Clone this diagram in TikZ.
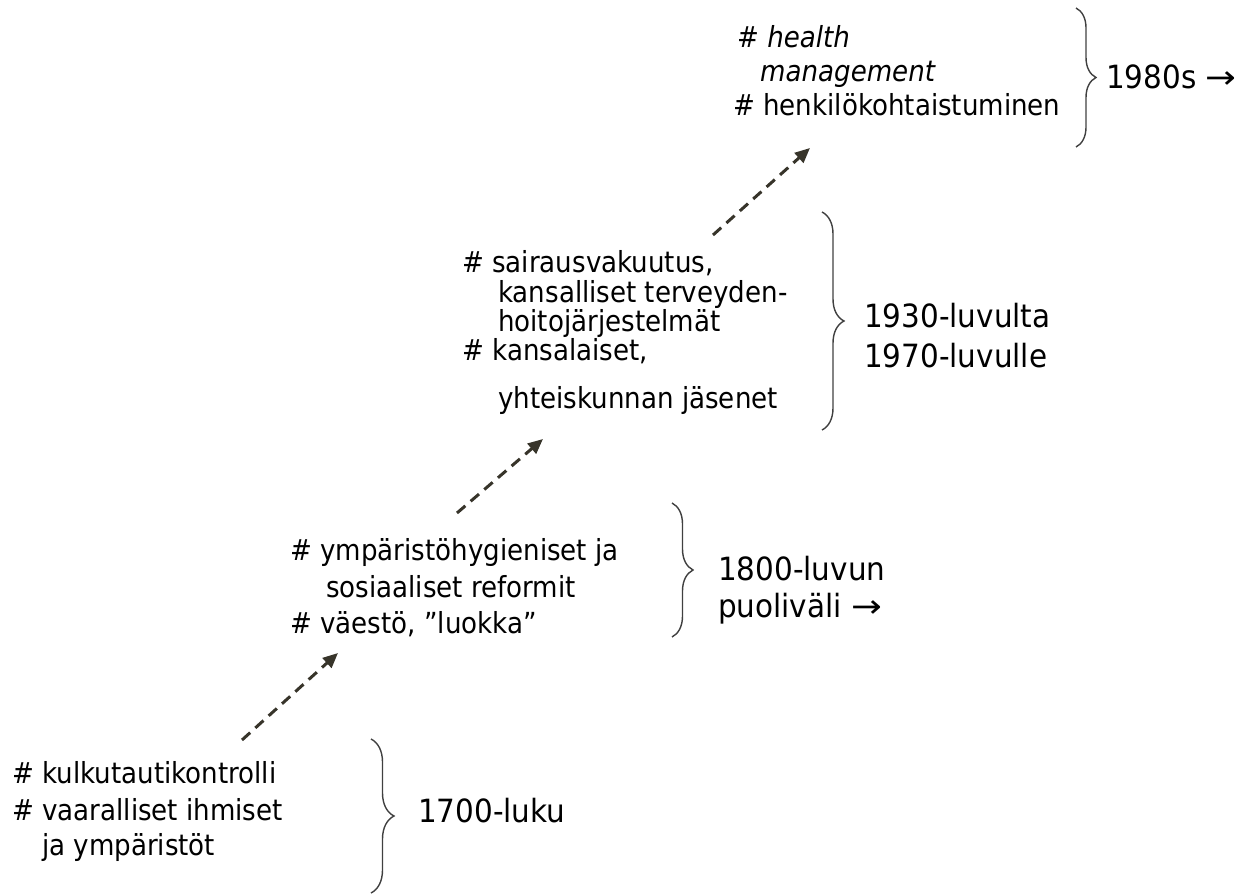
\documentclass[tikz,border=0pt]{standalone}
\usepackage{fontspec}
\setmainfont{DejaVu Sans}[FakeStretch=0.9]
\newfontfamily\bigfont{DejaVu Sans}[FakeStretch=0.92]
\usetikzlibrary{arrows.meta,decorations.pathreplacing}
\definecolor{arrowcol}{RGB}{55,52,42}
\definecolor{bracecol}{RGB}{64,64,64}
\newcommand{\rarr}{\scalebox{1.25}[1.0]{→}}
\tikzset{
  txt/.style={anchor=base west, inner sep=0pt, font=\fontsize{29}{32}\selectfont},
  big/.style={anchor=base west, inner sep=0pt, font=\bigfont\fontsize{32}{36}\selectfont},
  stepline/.style={draw=arrowcol, line width=3pt, dash pattern=on 11pt off 7pt,
    -{Triangle[length=15pt,width=13pt]}},
  bracedeco/.style={draw=bracecol, line width=1.4pt, decorate,
    decoration={brace, amplitude=#1}}
}
\begin{document}
\begin{tikzpicture}[x=1pt,y=-1pt]
\useasboundingbox (0,0) rectangle (1252,894);

% block 4 (1700)
\node[txt] (d1) at (12,783) {\# kulkutautikontrolli};
\node[txt] (d2) at (12,820) {\# vaaralliset ihmiset};
\node[txt] (d3) at (42,855) {ja ympäristöt};
\draw[bracedeco=23pt] (371,739) -- (371,893);
\node[big] (t4) at (418,822) {1700-luku};

% block 3 (1800)
\node[txt] (c1) at (290,560) {\# ympäristöhygieniset ja};
\node[txt] (c2) at (326,597) {sosiaaliset reformit};
\node[txt] (c3) at (290,633) {\# väestö, ”luokka”};
\draw[bracedeco=21pt] (672,503) -- (672,637);
\node[big] (t3a) at (718,580) {1800-luvun};
\node[big] (t3b) at (718,617) {puoliväli \rarr};

% block 2 (1930-1970)
\node[txt] (b1) at (462,272) {\# sairausvakuutus,};
\node[txt] (b2) at (498,302) {kansalliset terveyden-};
\node[txt] (b3) at (498,331) {hoitojärjestelmät};
\node[txt] (b4) at (462,360) {\# kansalaiset,};
\node[txt] (b5) at (498,408) {yhteiskunnan jäsenet};
\draw[bracedeco=22pt] (822,212) -- (822,430);
\node[big] (t2a) at (864,327) {1930-luvulta};
\node[big] (t2b) at (864,367) {1970-luvulle};

% block 1 (1980s)
\node[txt] (a1) at (737,47) {\# \textit{health}};
\node[txt] (a2) at (760,81) {\textit{management}};
\node[txt] (a3) at (733,115) {\# henkilökohtaistuminen};
\draw[bracedeco=20pt] (1076,8) -- (1076,147);
\node[big] (t1) at (1106,88) {1980s \rarr};

% arrows
\coordinate (s1) at (242,740);
\coordinate (e1) at (338,653);
\coordinate (s2) at (457,513);
\coordinate (e2) at (543,439);
\coordinate (s3) at (713,235);
\coordinate (e3) at (810,148);
\draw[stepline] (s1) -- (e1);
\draw[stepline] (s2) -- (e2);
\draw[stepline] (s3) -- (e3);
\end{tikzpicture}
\end{document}
